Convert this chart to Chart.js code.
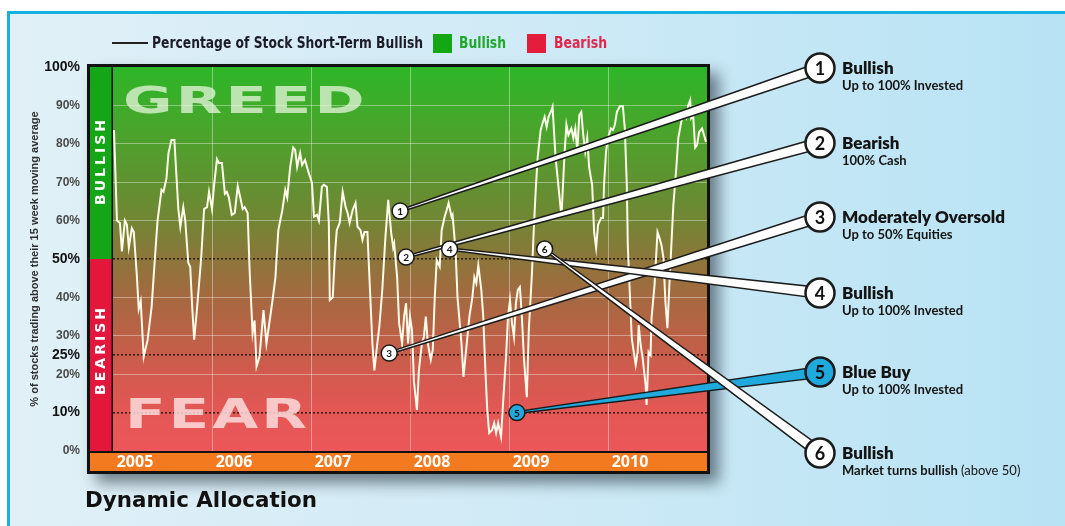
<!DOCTYPE html>
<html>
<head>
<meta charset="utf-8">
<title>Dynamic Allocation</title>
<script src="https://cdn.jsdelivr.net/npm/chart.js@4.4.1/dist/chart.umd.min.js"></script>
<style>
  html, body { margin: 0; padding: 0; background: #fff; }
  #wrap { width: 1065px; height: 526px; }
</style>
</head>
<body>
<div id="wrap"><canvas id="bullish" width="1065" height="526"></canvas></div>
<script>
// weekly readings, x in decimal years
const weekYear = [
  2005.01, 2005.04, 2005.07, 2005.09, 2005.12, 2005.14, 2005.16, 2005.19, 2005.21, 2005.24,
  2005.26, 2005.28, 2005.31, 2005.35, 2005.39, 2005.42, 2005.45, 2005.49, 2005.51, 2005.54,
  2005.56, 2005.59, 2005.62, 2005.64, 2005.66, 2005.68, 2005.71, 2005.73, 2005.76, 2005.78,
  2005.80, 2005.82, 2005.85, 2005.89, 2005.92, 2005.95, 2005.97, 2006.00, 2006.02, 2006.05,
  2006.07, 2006.10, 2006.13, 2006.15, 2006.17, 2006.20, 2006.23, 2006.26, 2006.29, 2006.31,
  2006.33, 2006.36, 2006.38, 2006.41, 2006.43, 2006.45, 2006.48, 2006.52, 2006.55, 2006.61,
  2006.64, 2006.67, 2006.71, 2006.74, 2006.76, 2006.79, 2006.82, 2006.84, 2006.86, 2006.89,
  2006.91, 2006.94, 2006.97, 2007.01, 2007.03, 2007.06, 2007.08, 2007.11, 2007.13, 2007.16,
  2007.18, 2007.19, 2007.22, 2007.24, 2007.26, 2007.29, 2007.32, 2007.35, 2007.37, 2007.39,
  2007.42, 2007.45, 2007.47, 2007.50, 2007.52, 2007.54, 2007.57, 2007.59, 2007.62, 2007.64,
  2007.67, 2007.69, 2007.72, 2007.75, 2007.78, 2007.81, 2007.83, 2007.84, 2007.87, 2007.89,
  2007.92, 2007.94, 2007.96, 2007.98, 2008.00, 2008.02, 2008.04, 2008.07, 2008.09, 2008.12,
  2008.14, 2008.16, 2008.18, 2008.21, 2008.23, 2008.25, 2008.27, 2008.30, 2008.32, 2008.35,
  2008.37, 2008.39, 2008.42, 2008.43, 2008.46, 2008.48, 2008.52, 2008.54, 2008.58, 2008.60,
  2008.63, 2008.65, 2008.67, 2008.69, 2008.72, 2008.74, 2008.76, 2008.78, 2008.80, 2008.83,
  2008.85, 2008.87, 2008.89, 2008.92, 2008.94, 2008.97, 2008.99, 2009.01, 2009.03, 2009.05,
  2009.07, 2009.09, 2009.11, 2009.13, 2009.15, 2009.18, 2009.20, 2009.23, 2009.25, 2009.27,
  2009.29, 2009.32, 2009.34, 2009.36, 2009.38, 2009.40, 2009.43, 2009.44, 2009.47, 2009.49,
  2009.53, 2009.56, 2009.58, 2009.60, 2009.63, 2009.65, 2009.67, 2009.69, 2009.71, 2009.73,
  2009.75, 2009.77, 2009.79, 2009.81, 2009.84, 2009.86, 2009.88, 2009.90, 2009.93, 2009.95,
  2009.96, 2009.98, 2010.00, 2010.03, 2010.05, 2010.07, 2010.09, 2010.12, 2010.15, 2010.17,
  2010.19, 2010.20, 2010.22, 2010.24, 2010.26, 2010.28, 2010.30, 2010.31, 2010.33, 2010.35,
  2010.38, 2010.39, 2010.41, 2010.43, 2010.44, 2010.47, 2010.50, 2010.52, 2010.54, 2010.56,
  2010.58, 2010.60, 2010.62, 2010.64, 2010.66, 2010.69, 2010.71, 2010.74, 2010.76, 2010.79,
  2010.81, 2010.83, 2010.84, 2010.86, 2010.88, 2010.90, 2010.92, 2010.95, 2010.97, 2010.99
];

// % of stocks above their 15 week moving average
const pctAbove = [
  83.6, 60, 59.4, 52, 60, 59, 53, 58, 57, 46,
  37, 39, 24.5, 29, 37.5, 49, 60, 68, 67.5, 71,
  77.5, 81, 81, 72, 63, 58.4, 63.5, 60, 49, 48,
  37.5, 29, 37.5, 50, 63, 63.5, 67.5, 63, 69, 76,
  75, 75, 67, 67.5, 66, 61.5, 62, 69, 65.5, 63,
  63.5, 62, 47, 30.7, 34, 22, 24.5, 36.7, 28, 39,
  45, 57.5, 62.7, 68, 66, 74, 79, 78.4, 74, 77.6,
  74.5, 75.8, 73, 69.8, 61, 61.5, 60, 68.8, 69.3, 68.8,
  59.4, 39.3, 40, 50.5, 57.5, 59.4, 67.5, 63.5, 62, 59.4,
  62.7, 64.6, 58.4, 57.5, 55, 57, 57, 45.3, 28, 21,
  28, 32.3, 42, 55, 65.4, 56.8, 53, 54, 45.3, 33.3,
  28, 35, 38.5, 28, 35, 31.5, 18, 10.7, 21, 28,
  29.7, 35, 28, 23.7, 26.3, 40, 49.7, 48, 57.5, 61,
  62.7, 64.6, 61, 61.5, 52.3, 40, 28, 19.3, 29.7, 35,
  40, 45.3, 43.7, 48.4, 42, 35, 21.9, 10.7, 4.7, 5.5,
  7.3, 4.7, 7.3, 3.7, 12.5, 24.5, 35, 39.3, 33.3, 29.7,
  38.5, 42, 42.7, 35, 24.5, 14, 31.5, 45.3, 57.5, 68,
  76.6, 83.6, 85.4, 87, 84.4, 87, 88.8, 89.6, 76.6, 71.4,
  61, 77, 85, 82.3, 84, 81.5, 84, 78, 87.5, 88.3,
  82.3, 78, 81.5, 73.7, 69.3, 57, 52.9, 58.9, 60.7, 60.7,
  69.3, 78, 81.5, 84, 83.6, 85, 88.3, 89.8, 89.8, 84,
  69.3, 53.6, 41.4, 29.4, 25.8, 22.4, 25.8, 32.8, 27.6, 24.2,
  17.2, 12, 25.8, 25, 34.6, 43.2, 57, 55.5, 53.6, 50.3,
  38.8, 32, 43.2, 53.6, 64, 73.7, 81.5, 85.7, 88, 86.7,
  90, 91.4, 86.7, 87.5, 79, 79.7, 83, 84, 82.3, 80.5
];

const yTicks = [0, 10, 20, 25, 30, 40, 50, 60, 70, 80, 90, 100];
const yMajor = [10, 25, 50, 100];
const yearFirst = 2005;
const yearLast = 2011;

// numbered signals on the line
const calloutNum = ['1', '2', '3', '4', '5', '6'];
const calloutYear = [2007.90, 2007.96, 2007.79, 2008.40, 2009.08, 2009.36];
const calloutPct = [62.5, 50.5, 25.5, 52.6, 10, 52.6];
const calloutTitle = ['Bullish', 'Bearish', 'Moderately Oversold', 'Bullish', 'Blue Buy', 'Bullish'];
const calloutNote = ['Up to 100% Invested', '100% Cash', 'Up to 50% Equities', 'Up to 100% Invested', 'Up to 100% Invested', 'Market turns bullish'];
const calloutNoteLight = ['', '', '', '', '', '(above 50)'];

// right-hand key positions
const keyX = 820;
const keyY = [68, 143, 217, 293, 372, 453];

const tickVal = c => (c && c.tick) ? c.tick.value : -1;

function taper(ctx, ax, ay, bx, by, w0, w1, fill) {
  const dx = bx - ax, dy = by - ay, len = Math.hypot(dx, dy);
  const nx = -dy / len, ny = dx / len;
  ctx.beginPath();
  ctx.moveTo(ax + nx * w0, ay + ny * w0);
  ctx.lineTo(bx + nx * w1, by + ny * w1);
  ctx.lineTo(bx - nx * w1, by - ny * w1);
  ctx.lineTo(ax - nx * w0, ay - ny * w0);
  ctx.closePath();
  ctx.fillStyle = fill;
  ctx.fill();
  ctx.lineWidth = 1.5;
  ctx.strokeStyle = '#1b1b1b';
  ctx.stroke();
}

function badge(ctx, x, y, r, txt, fill, font, lw) {
  ctx.beginPath();
  ctx.arc(x, y, r, 0, Math.PI * 2);
  ctx.fillStyle = fill;
  ctx.fill();
  ctx.lineWidth = lw;
  ctx.strokeStyle = '#1b1b1b';
  ctx.stroke();
  ctx.fillStyle = '#111';
  ctx.font = font;
  ctx.textAlign = 'center';
  ctx.textBaseline = 'middle';
  ctx.fillText(txt, x, y + 1);
}

function wideWord(ctx, txt, x, base, width, size, color) {
  ctx.save();
  ctx.font = 'bold ' + size + 'px "DejaVu Sans"';
  ctx.letterSpacing = '2px';
  const w = ctx.measureText(txt).width;
  ctx.translate(x, base);
  ctx.scale(width / w, 1);
  ctx.fillStyle = color;
  ctx.textAlign = 'left';
  ctx.textBaseline = 'alphabetic';
  ctx.fillText(txt, 0, 0);
  ctx.restore();
}

const panel = {
  id: 'panel',
  beforeDraw(chart) {
    const { ctx, chartArea: ca, scales } = chart;
    const W = chart.width, H = chart.height;
    const yS = scales.y, xS = scales.x;
    ctx.save();

    // page
    ctx.fillStyle = '#fff';
    ctx.fillRect(0, 0, W, H);
    const bg = ctx.createLinearGradient(10, 0, W, 0);
    bg.addColorStop(0, '#e1f0f7');
    bg.addColorStop(0.5, '#cfeaf6');
    bg.addColorStop(1, '#b8e3f4');
    ctx.fillStyle = bg;
    ctx.fillRect(8, 12, W - 8, H - 12);
    ctx.fillStyle = '#15b2e0';
    ctx.fillRect(7, 11, W - 7, 3);
    ctx.fillRect(7, 11, 3, H - 11);

    // black frame with drop shadow
    const fx = ca.left - 26, fy = ca.top - 3;
    const fw = ca.right + 3 - fx, fh = xS.bottom + 3 - fy;
    ctx.shadowColor = 'rgba(20,35,45,0.55)';
    ctx.shadowBlur = 14;
    ctx.shadowOffsetX = 9;
    ctx.shadowOffsetY = 9;
    ctx.fillStyle = '#111';
    ctx.fillRect(fx, fy, fw, fh);
    ctx.shadowColor = 'transparent';

    // greed-to-fear fill
    const g = ctx.createLinearGradient(0, ca.top, 0, ca.bottom);
    g.addColorStop(0, 'rgb(45,182,40)');
    g.addColorStop(0.1, 'rgb(62,172,42)');
    g.addColorStop(0.2, 'rgb(80,160,45)');
    g.addColorStop(0.3, 'rgb(96,146,48)');
    g.addColorStop(0.4, 'rgb(114,134,52)');
    g.addColorStop(0.5, 'rgb(140,118,58)');
    g.addColorStop(0.6, 'rgb(165,105,64)');
    g.addColorStop(0.7, 'rgb(188,97,70)');
    g.addColorStop(0.8, 'rgb(210,90,78)');
    g.addColorStop(0.9, 'rgb(228,87,85)');
    g.addColorStop(1, 'rgb(236,87,90)');
    ctx.fillStyle = g;
    ctx.fillRect(ca.left, ca.top, ca.right - ca.left, ca.bottom - ca.top);

    // year band
    ctx.fillStyle = '#f47a1f';
    ctx.fillRect(fx + 3, ca.bottom + 2, fw - 6, xS.bottom - ca.bottom - 2);

    // bullish / bearish side bar
    const y50 = yS.getPixelForValue(50);
    const bx = fx + 3, bw = ca.left - 1.5 - bx;
    ctx.fillStyle = '#14a617';
    ctx.fillRect(bx, ca.top, bw, y50 - ca.top);
    ctx.fillStyle = '#e3173b';
    ctx.fillRect(bx, y50, bw, ca.bottom - y50);

    ctx.fillStyle = '#fff';
    ctx.font = 'bold 14px "DejaVu Sans"';
    ctx.letterSpacing = '3px';
    ctx.textAlign = 'center';
    ctx.textBaseline = 'middle';
    [['BULLISH', yS.getPixelForValue(75) - 2], ['BEARISH', yS.getPixelForValue(25) - 5]].forEach(([t, cy]) => {
      ctx.save();
      ctx.translate(bx + bw / 2 + 1, cy);
      ctx.rotate(-Math.PI / 2);
      ctx.fillText(t, 0, 0);
      ctx.restore();
    });
    ctx.letterSpacing = '0px';
    ctx.restore();
  },
  beforeDatasetsDraw(chart) {
    const { ctx } = chart;
    wideWord(ctx, 'GREED', 123, 113, 245, 37, 'rgba(232,245,222,0.75)');
    wideWord(ctx, 'FEAR', 125, 428, 185, 40, 'rgba(252,226,226,0.82)');
  },
  afterDraw(chart) {
    const { ctx, scales } = chart;
    const xS = scales.x, yS = scales.y;
    ctx.save();

    // leader lines to the key
    calloutYear.forEach((yr, i) => {
      const ax = xS.getPixelForValue(yr), ay = yS.getPixelForValue(calloutPct[i]);
      taper(ctx, ax, ay, keyX, keyY[i], 1, 5.5, i === 4 ? '#1fa9dc' : '#fff');
    });
    calloutYear.forEach((yr, i) => {
      const ax = xS.getPixelForValue(yr), ay = yS.getPixelForValue(calloutPct[i]);
      badge(ctx, ax, ay, 8, calloutNum[i], i === 4 ? '#1fa9dc' : '#fff', 'bold 10px Lato', 1.5);
      badge(ctx, keyX, keyY[i], 14.5, calloutNum[i], i === 4 ? '#1fa9dc' : '#fff', 'bold 18px Lato', 2.5);
    });

    // key text
    ctx.textAlign = 'left';
    ctx.textBaseline = 'alphabetic';
    ctx.fillStyle = '#141414';
    calloutTitle.forEach((t, i) => {
      ctx.font = '800 17px Lato';
      ctx.fillText(t, 842, keyY[i] + 6);
      ctx.font = 'bold 13px Lato';
      ctx.fillText(calloutNote[i], 842, keyY[i] + 22);
      if (calloutNoteLight[i]) {
        const w = ctx.measureText(calloutNote[i] + ' ').width;
        ctx.font = '400 13px Lato';
        ctx.fillText(calloutNoteLight[i], 842 + w, keyY[i] + 22);
      }
    });

    // legend
    ctx.strokeStyle = '#222';
    ctx.lineWidth = 2;
    ctx.beginPath();
    ctx.moveTo(112, 43);
    ctx.lineTo(148, 43);
    ctx.stroke();
    ctx.font = 'bold 15px "Liberation Sans Narrow", "DejaVu Sans Condensed", sans-serif';
    ctx.fillStyle = '#1c1c28';
    ctx.fillText('Percentage of Stock Short-Term Bullish', 152, 48, 271);
    ctx.fillStyle = '#13a813';
    ctx.fillRect(433, 34, 19, 19);
    ctx.fillStyle = '#1ea82a';
    ctx.fillText('Bullish', 459, 48, 47);
    ctx.fillStyle = '#e51d3c';
    ctx.fillRect(527, 34, 19, 19);
    ctx.fillStyle = '#e0264a';
    ctx.fillText('Bearish', 554, 48, 53);

    // caption
    ctx.fillStyle = '#111';
    ctx.font = 'bold 22px "DejaVu Sans"';
    ctx.fillText('Dynamic Allocation', 85, 507, 232);
    ctx.restore();
  }
};

const ctx = document.getElementById('bullish').getContext('2d');

new Chart(ctx, {
  type: 'line',
  data: {
    datasets: [{
      label: 'Percentage of Stock Short-Term Bullish',
      data: weekYear.map((t, i) => ({ x: t, y: pctAbove[i] })),
      borderColor: '#fffbea',
      borderWidth: 2,
      pointRadius: 0,
      tension: 0,
      fill: false
    }]
  },
  options: {
    responsive: false,
    devicePixelRatio: 1,
    animation: false,
    layout: {
      padding: { left: 24, top: 67, right: 358, bottom: 55 }
    },
    plugins: {
      legend: { display: false },
      tooltip: { enabled: false }
    },
    scales: {
      x: {
        type: 'linear',
        min: yearFirst,
        max: yearLast,
        afterFit: s => { s.height = 20; },
        grid: {
          drawTicks: false,
          color: c => {
            const v = tickVal(c);
            return (v === yearFirst || v === yearLast) ? 'rgba(0,0,0,0)' : 'rgba(255,255,255,0.38)';
          },
          lineWidth: 1
        },
        border: { display: false },
        ticks: {
          stepSize: 1,
          autoSkip: false,
          maxRotation: 0,
          labelOffset: 22,
          padding: 2,
          color: '#fff',
          font: { family: '"Open Sans"', size: 16, weight: 'bold' },
          callback: v => v === yearLast ? '' : String(v)
        }
      },
      y: {
        min: 0,
        max: 100,
        afterFit: s => { s.width = 89; },
        afterBuildTicks: s => { s.ticks = yTicks.map(v => ({ value: v })); },
        title: {
          display: true,
          text: '% of stocks trading above their 15 week moving average',
          color: '#2e2e2e',
          font: { family: '"Liberation Sans"', size: 11, weight: 'bold' },
          padding: { top: 4, bottom: 0 }
        },
        grid: {
          drawTicks: false,
          color: c => {
            const v = tickVal(c);
            if (v === 0 || v === 100) return 'rgba(0,0,0,0)';
            if (yMajor.includes(v)) return 'rgba(40,24,14,0.9)';
            return 'rgba(255,255,255,0.38)';
          },
          lineWidth: c => yMajor.includes(tickVal(c)) ? 1.6 : 1
        },
        border: {
          display: false,
          dash: c => yMajor.includes(tickVal(c)) ? [2, 2] : []
        },
        ticks: {
          padding: 33,
          color: c => yMajor.includes(tickVal(c)) ? '#111' : '#4a4a4a',
          font: c => yMajor.includes(tickVal(c))
            ? { family: '"Liberation Sans"', size: 14, weight: 'bold' }
            : { family: '"Liberation Sans"', size: 12, weight: 'bold' },
          callback: v => v + '%'
        }
      }
    }
  },
  plugins: [panel]
});
</script>
</body>
</html>
